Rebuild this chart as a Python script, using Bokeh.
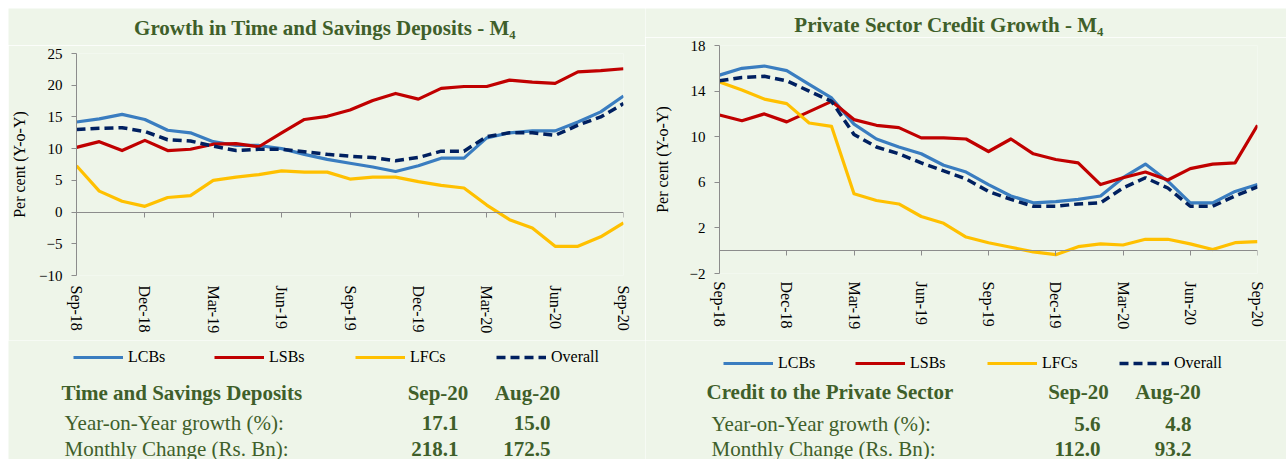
from bokeh.plotting import figure
from bokeh.models import Range1d, LinearAxis, FixedTicker, Legend, LegendItem, Spacer
from bokeh.layouts import row, column
from bokeh.core.properties import value
from bokeh.embed import file_html
from bokeh.resources import INLINE

# ---------------- data ----------------
months = ["Sep-18", "Oct-18", "Nov-18", "Dec-18", "Jan-19", "Feb-19", "Mar-19", "Apr-19",
          "May-19", "Jun-19", "Jul-19", "Aug-19", "Sep-19", "Oct-19", "Nov-19", "Dec-19",
          "Jan-20", "Feb-20", "Mar-20", "Apr-20", "May-20", "Jun-20", "Jul-20", "Aug-20", "Sep-20"]
tick_step = 3

series_names = ["LCBs", "LSBs", "LFCs", "Overall"]

dep_lcbs = [14.2, 14.7, 15.4, 14.6, 12.9, 12.5, 11.1, 10.5, 10.5, 10.0, 9.1, 8.3, 7.7, 7.1, 6.4,
            7.3, 8.5, 8.5, 11.7, 12.5, 12.8, 12.8, 14.2, 15.8, 18.3]
dep_lsbs = [10.2, 11.1, 9.7, 11.3, 9.7, 9.9, 10.7, 10.8, 10.3, 12.5, 14.6, 15.1, 16.1, 17.6, 18.7,
            17.8, 19.5, 19.8, 19.8, 20.8, 20.5, 20.3, 22.1, 22.3, 22.6]
dep_lfcs = [7.3, 3.3, 1.7, 0.9, 2.3, 2.6, 5.0, 5.5, 5.9, 6.5, 6.3, 6.3, 5.2, 5.5, 5.5,
            4.8, 4.2, 3.8, 1.1, -1.2, -2.5, -5.4, -5.4, -3.9, -1.7]
dep_overall = [13.0, 13.2, 13.3, 12.7, 11.4, 11.2, 10.4, 9.7, 9.9, 9.9, 9.5, 9.1, 8.8, 8.6, 8.1,
               8.6, 9.6, 9.6, 11.9, 12.5, 12.5, 12.1, 13.7, 15.0, 17.1]

cr_lcbs = [15.4, 16.0, 16.2, 15.8, 14.6, 13.4, 11.1, 9.8, 9.1, 8.5, 7.5, 6.9, 5.8, 4.8, 4.2,
           4.3, 4.5, 4.8, 6.4, 7.6, 6.1, 4.2, 4.2, 5.2, 5.8]
cr_lsbs = [11.9, 11.4, 12.0, 11.3, 12.2, 13.1, 11.5, 11.0, 10.8, 9.9, 9.9, 9.8, 8.7, 9.8, 8.5,
           8.0, 7.7, 5.8, 6.4, 6.9, 6.2, 7.2, 7.6, 7.7, 11.0]
cr_lfcs = [14.8, 14.1, 13.3, 12.9, 11.2, 10.9, 5.0, 4.4, 4.1, 3.0, 2.4, 1.2, 0.7, 0.3, -0.1,
           -0.35, 0.35, 0.6, 0.5, 1.0, 1.0, 0.6, 0.1, 0.7, 0.8]
cr_overall = [14.9, 15.2, 15.3, 14.9, 14.0, 13.1, 10.2, 9.1, 8.5, 7.7, 7.0, 6.3, 5.2, 4.5, 3.9,
              3.9, 4.1, 4.2, 5.5, 6.4, 5.5, 3.9, 3.9, 4.8, 5.6]

dep_title = "Growth in Time and Savings Deposits - M\u2084"
cr_title = "Private Sector Credit Growth - M\u2084"
y_label = "Per cent (Y-o-Y)"
dep_yticks = [-10, -5, 0, 5, 10, 15, 20, 25]
cr_yticks = [-2, 2, 6, 10, 14, 18]

table_cols = ["Sep-20", "Aug-20"]
table_rows = ["Year-on-Year growth (%):", "Monthly Change (Rs. Bn):"]
dep_table_title = "Time and Savings Deposits"
dep_sep = ["17.1", "218.1"]
dep_aug = ["15.0", "172.5"]
cr_table_title = "Credit to the Private Sector"
cr_sep = ["5.6", "112.0"]
cr_aug = ["4.8", "93.2"]

# ---------------- styles ----------------
BG = "#EEF5E9"
GREEN = "#3F5F2A"
FONT = "Liberation Serif"
COLORS = ["#3A7DC0", "#C00000", "#FFC000", "#002060"]
DASH = "9 5"
AXIS_GRAY = "#8C8C8C"
NAN = float("nan")


def line_style(name, col):
    if name == "Overall":
        return dict(line_color=col, line_width=3.5, line_dash=DASH)
    return dict(line_color=col, line_width=3.2, line_join="round")


def text_fig(width, height):
    f = figure(width=width, height=height, output_backend="svg", toolbar_location=None,
               x_axis_type=None, y_axis_type=None,
               x_range=Range1d(0, width), y_range=Range1d(height, 0),
               min_border_left=0, min_border_right=0,
               min_border_top=0, min_border_bottom=0, frame_align=False)
    f.background_fill_color = BG
    f.border_fill_color = BG
    f.outline_line_color = None
    return f


def title_fig(title, width, height, cx, cy):
    f = text_fig(width, height)
    f.text(x=[cx], y=[cy], text=[title], text_align="center", text_baseline="middle",
           text_font=value(FONT), text_font_size="21px", text_font_style="bold",
           text_color=GREEN)
    return f


def chart_fig(series, yticks, width, height, borders, tick_standoff, ylabel_standoff,
              xlabel_standoff):
    bl, br, bt, bb = borders
    p = figure(width=width, height=height, output_backend="svg", toolbar_location=None,
               x_axis_type=None, y_axis_type=None,
               x_range=Range1d(0, len(months) - 1),
               y_range=Range1d(yticks[0], yticks[-1]),
               min_border_left=bl, min_border_right=br, min_border_top=bt, min_border_bottom=bb,
               frame_align=False)
    p.background_fill_color = BG
    p.border_fill_color = BG
    p.outline_line_color = None

    xs = list(range(len(months)))
    tick_idx = xs[::tick_step]
    overrides = {i: months[i] for i in tick_idx}

    yax = LinearAxis(ticker=FixedTicker(ticks=yticks), axis_label=y_label)
    yax.axis_line_color = AXIS_GRAY
    yax.major_tick_line_color = AXIS_GRAY
    yax.major_tick_out = 5
    yax.major_tick_in = 0
    yax.minor_tick_line_color = None
    yax.major_label_text_font = FONT
    yax.major_label_text_font_size = "15px"
    yax.major_label_text_color = "#000000"
    yax.major_label_standoff = tick_standoff
    yax.axis_label_text_font = FONT
    yax.axis_label_text_font_size = "16px"
    yax.axis_label_text_font_style = "normal"
    yax.axis_label_text_color = "#000000"
    yax.axis_label_standoff = ylabel_standoff
    p.add_layout(yax, "left")

    zax = LinearAxis(ticker=FixedTicker(ticks=tick_idx), fixed_location=0)
    zax.axis_line_color = AXIS_GRAY
    zax.major_tick_line_color = AXIS_GRAY
    zax.major_tick_out = 5
    zax.major_tick_in = 0
    zax.minor_tick_line_color = None
    zax.major_label_text_font_size = "0px"
    zax.major_label_text_alpha = 0
    p.add_layout(zax, "below")

    lax = LinearAxis(ticker=FixedTicker(ticks=tick_idx), major_label_overrides=overrides)
    lax.axis_line_color = None
    lax.major_tick_line_color = None
    lax.minor_tick_line_color = None
    lax.major_tick_out = 0
    lax.major_tick_in = 0
    lax.major_label_orientation = "vertical"
    lax.major_label_text_font = FONT
    lax.major_label_text_font_size = "16px"
    lax.major_label_text_color = "#000000"
    lax.major_label_standoff = xlabel_standoff
    p.add_layout(lax, "below")

    for name, ys, col in zip(series_names, series, COLORS):
        p.line(xs, ys, **line_style(name, col))
    return p


def bottom_fig(width, height, legend_loc, legend_label_w, ttitle, sep_vals, aug_vals, pos):
    tx, rx, sep_c, sep_r, aug_c, aug_r, y0, y1, y2 = pos
    f = text_fig(width, height)
    # legend keys (the plotted series live in the chart above)
    keys = [f.line(x=[NAN, NAN], y=[NAN, NAN], **line_style(n, c))
            for n, c in zip(series_names, COLORS)]
    items = [LegendItem(label=n, renderers=[r]) for n, r in zip(series_names, keys)]
    leg = Legend(items=items, orientation="horizontal", location=legend_loc,
                 glyph_width=50, glyph_height=16, label_standoff=5,
                 label_width=legend_label_w, label_height=16, spacing=0, padding=0, margin=0,
                 border_line_color=None, background_fill_alpha=0,
                 label_text_font=FONT, label_text_font_size="16px",
                 label_text_color="#000000", label_text_baseline="middle")
    f.add_layout(leg)

    common = dict(text_font=value(FONT), text_font_size="21px", text_color=GREEN,
                  text_baseline="middle")
    f.text(x=[tx], y=[y0], text=[ttitle], text_align="left", text_font_style="bold", **common)
    f.text(x=[sep_c, aug_c], y=[y0, y0], text=table_cols, text_align="center",
           text_font_style="bold", **common)
    f.text(x=[rx, rx], y=[y1, y2], text=table_rows, text_align="left", **common)
    f.text(x=[sep_r, sep_r], y=[y1, y2], text=sep_vals, text_align="right",
           text_font_style="bold", **common)
    f.text(x=[aug_r, aug_r], y=[y1, y2], text=aug_vals, text_align="right",
           text_font_style="bold", **common)
    return f


# ---------------- left panel ----------------
LW = 637
l_title = title_fig(dep_title, LW, 37, 316.5, 19)
l_chart = chart_fig([dep_lcbs, dep_lsbs, dep_lfcs, dep_overall], dep_yticks, LW, 295,
                    borders=(66, 22, 8, 65), tick_standoff=9, ylabel_standoff=8,
                    xlabel_standoff=10)
l_bottom = bottom_fig(LW, 119, (65, 93), 86, dep_table_title, dep_sep, dep_aug,
                      (53, 56, 429.5, 450, 519, 542, 52, 82, 108))

# ---------------- right panel ----------------
RW = 641
r_title = title_fig(cr_title, RW, 29, 303.5, 16.5)
r_chart = chart_fig([cr_lcbs, cr_lsbs, cr_lfcs, cr_overall], cr_yticks, RW, 303,
                    borders=(74, 29, 8, 67), tick_standoff=9, ylabel_standoff=16,
                    xlabel_standoff=8)
r_bottom = bottom_fig(RW, 119, (78, 87), 77, cr_table_title, cr_sep, cr_aug,
                      (61, 66, 433, 455, 522.5, 546, 51, 83, 108))

panels = row(column(l_title, l_chart, l_bottom), column(r_title, r_chart, r_bottom))
layout = column(Spacer(width=1286, height=8), row(Spacer(width=8, height=451), panels))
open("out.html", "w").write(file_html(layout, INLINE))
